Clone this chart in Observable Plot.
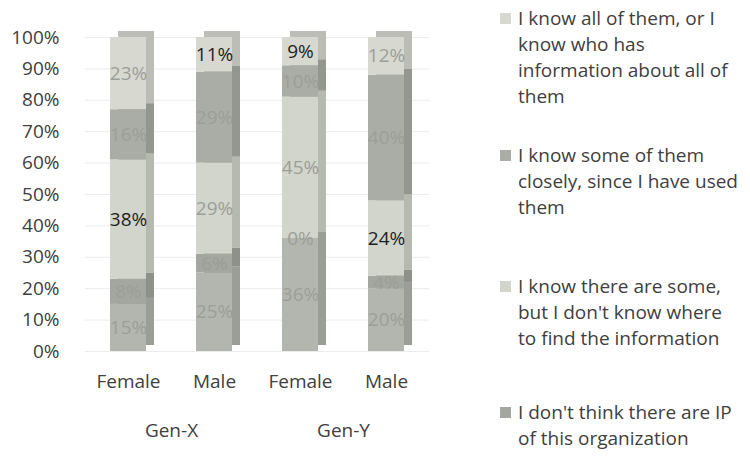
<!DOCTYPE html>
<html>
<head>
<meta charset="utf-8">
<script src="https://cdn.jsdelivr.net/npm/d3@7"></script>
<script src="https://cdn.jsdelivr.net/npm/@observablehq/plot@0.6"></script>
<style>
  html, body { margin: 0; padding: 0; background: #fff; }
  #wrap { position: relative; width: 750px; height: 456px; font-family: "Open Sans", sans-serif; color: #404040; }
  #chart { position: absolute; left: 0; top: 0; }
  .lg { position: absolute; left: 500px; width: 250px; font-size: 19px; line-height: 26px; color: #404040; }
  .lg .sw { position: absolute; left: 0; top: 8px; width: 11px; height: 11px; }
  .lg .tx { position: absolute; left: 18px; top: 0; white-space: nowrap; }
</style>
</head>
<body>
<div id="wrap">
  <div id="chart"></div>
  <div id="legend"></div>
</div>
<script>
// Categories (x axis)
const generations = ["Gen-X", "Gen-X", "Gen-Y", "Gen-Y"];
const genders = ["Female", "Male", "Female", "Male"];

// Series, listed bottom of stack -> top of stack
const seriesNames = [
  "(fifth series, legend entry cut off)",
  "I don't think there are IP of this organization",
  "I know there are some, but I don't know where to find the information",
  "I know some of them closely, since I have used them",
  "I know all of them, or I know who has information about all of them"
];
// Values (%) per series, in category order
const sFifth        = [15, 25, 36, 20];
const sNoIP         = [8, 6, 0, 4];
const sKnowSome     = [38, 29, 45, 24];
const sSomeClosely  = [16, 29, 10, 40];
const sKnowAll      = [23, 11, 9, 12];
const seriesValues = [sFifth, sNoIP, sKnowSome, sSomeClosely, sKnowAll];

// Legend entries (top to bottom as shown), with their line breaks
const legendEntries = [
  {series: seriesNames[4], lines: ["I know all of them, or I", "know who has", "information about all of", "them"]},
  {series: seriesNames[3], lines: ["I know some of them", "closely, since I have used", "them"]},
  {series: seriesNames[2], lines: ["I know there are some,", "but I don't know where", "to find the information"]},
  {series: seriesNames[1], lines: ["I don't think there are IP", "of this organization"]}
];

const yTicks = [0, 10, 20, 30, 40, 50, 60, 70, 80, 90, 100];

// Styling
const seriesColors = ["#b3b6ae", "#a3a79f", "#d2d5cb", "#aaada6", "#d7d9d1"];
const emphasized = [
  ["Gen-X", "Female", seriesNames[2]],
  ["Gen-X", "Male", seriesNames[4]],
  ["Gen-Y", "Female", seriesNames[4]],
  ["Gen-Y", "Male", seriesNames[2]]
];
const isEmph = d => emphasized.some(([g, s, n]) => g === d.gen && s === d.gender && n === d.series);

// Build tidy table
const table = [];
seriesNames.forEach((name, si) => {
  genders.forEach((g, ci) => {
    table.push({gen: generations[ci], gender: g, series: name, value: seriesValues[si][ci]});
  });
});

const stackOpts = (extra) => Plot.stackY({fx: "gen", x: "gender", y: "value", z: "series", ...extra});

const chart = Plot.plot({
  width: 480,
  height: 456,
  marginLeft: 85,
  marginRight: 51,
  marginTop: 37,
  marginBottom: 105,
  style: {fontFamily: "Open Sans, sans-serif", fontSize: "19px", color: "#404040", background: "transparent", overflow: "visible"},
  fx: {domain: ["Gen-X", "Gen-Y"], axis: "bottom", padding: 0, tickSize: 0, tickPadding: 72, label: null},
  x: {domain: ["Female", "Male"], paddingInner: 0.58, paddingOuter: 0.29, tickSize: 0, tickPadding: 23, label: null},
  y: {domain: [0, 100], ticks: yTicks, tickFormat: d => d + "%", tickSize: 0, tickPadding: 26, label: null, grid: true},
  color: {domain: seriesNames, range: seriesColors},
  marks: [
    // 3D side / top faces
    Plot.barY(table, stackOpts({fill: "series", dx: 8, dy: -6})),
    Plot.barY(table, stackOpts({fill: "#000", fillOpacity: 0.13, dx: 8, dy: -6})),
    // front faces
    Plot.barY(table, stackOpts({fill: "series"})),
    // data labels (faded and dark ones)
    Plot.text(table, stackOpts({text: d => isEmph(d) ? "" : d.value + "%", fill: "#9c9e98", fontSize: 19})),
    Plot.text(table, stackOpts({text: d => isEmph(d) ? d.value + "%" : "", fill: "#1e1e1e", fontSize: 19}))
  ]
});
document.getElementById("chart").appendChild(chart);

// Legend
const legendTops = [5, 142, 273, 399];
const legend = document.getElementById("legend");
const colorOf = name => seriesColors[seriesNames.indexOf(name)];
legendEntries.forEach((e, i) => {
  const div = document.createElement("div");
  div.className = "lg";
  div.style.top = legendTops[i] + "px";
  const sw = document.createElement("div");
  sw.className = "sw";
  sw.style.background = colorOf(e.series);
  const tx = document.createElement("div");
  tx.className = "tx";
  tx.innerHTML = e.lines.map(l => l.replace(/&/g, "&amp;").replace(/</g, "&lt;")).join("<br>");
  div.appendChild(sw);
  div.appendChild(tx);
  legend.appendChild(div);
});
</script>
</body>
</html>
